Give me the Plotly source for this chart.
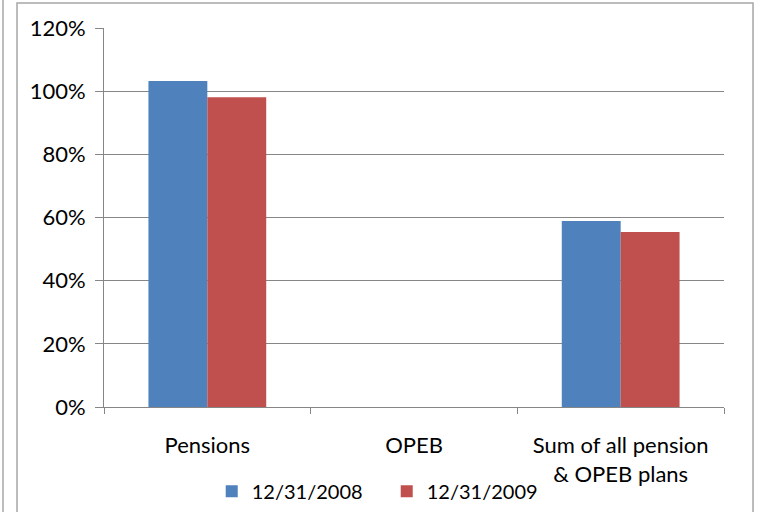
import plotly.graph_objects as go

categories = ["Pensions", "OPEB", "Sum of all pension<br>& OPEB plans"]
series_names = ["12/31/2008", "12/31/2009"]
values_2008 = [1.032, 0.0, 0.589]
values_2009 = [0.981, 0.0, 0.554]
colors = ["#4F81BD", "#C0504D"]
y_ticks = [0, 0.2, 0.4, 0.6, 0.8, 1.0, 1.2]

FONT = "Lato, 'Open Sans', sans-serif"

fig = go.Figure()
for name, vals, col in zip(series_names, [values_2008, values_2009], colors):
    fig.add_trace(go.Bar(x=categories, y=vals, name=name, marker=dict(color=col, line=dict(width=0))))

fig.update_layout(
    width=760, height=512,
    margin=dict(l=104, r=36, t=28, b=105, autoexpand=False),
    paper_bgcolor="white", plot_bgcolor="white",
    barmode="group", bargap=0.43, bargroupgap=0,
    font=dict(family=FONT, size=22, color="black"),
    showlegend=True,
    legend=dict(orientation="h", x=0.456, xanchor="center", y=-0.222, yanchor="middle",
                font=dict(size=20), itemwidth=30, traceorder="normal",
                entrywidth=130, entrywidthmode="pixels", bgcolor="rgba(0,0,0,0)"),
    xaxis=dict(showgrid=False, showline=True, linecolor="#868686", linewidth=1,
               ticks="outside", ticklen=6, tickcolor="#868686", tickson="boundaries",
               tickfont=dict(size=22), automargin=False, ticklabelstandoff=19),
    yaxis=dict(range=[0, 1.2], tickvals=y_ticks, tickformat=".0%",
               showgrid=True, gridcolor="#868686", gridwidth=1,
               showline=True, linecolor="#868686", linewidth=1,
               ticks="outside", ticklen=8, tickcolor="#868686",
               zeroline=False, tickfont=dict(size=22), automargin=False, ticklabelstandoff=5),
    shapes=[
        dict(type="rect", xref="paper", yref="paper", x0=-0.1403, x1=1.0468, y0=-0.30, y1=1.066,
             line=dict(color="#A6A6A6", width=1.5), fillcolor="rgba(0,0,0,0)", layer="below"),
        dict(type="line", xref="paper", yref="paper", x0=-0.1629, x1=-0.1629, y0=-0.30, y1=1.2,
             line=dict(color="#A6A6A6", width=1.5)),
    ],
)

fig.write_html("out.html", config={"displayModeBar": False},
               post_script="document.body.style.margin='0';")
